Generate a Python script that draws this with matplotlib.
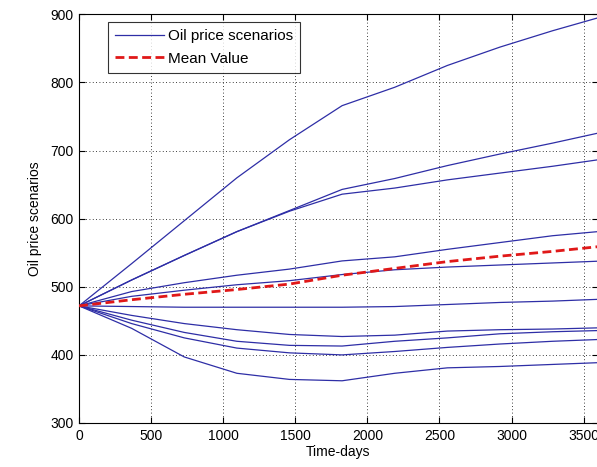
import numpy as np
import matplotlib
matplotlib.use("Agg")
import matplotlib.pyplot as plt

# Simulation time grid (days, yearly steps)
days = [0, 365, 730, 1095, 1460, 1825, 2190, 2555, 2920, 3285, 3650]

# Oil price scenarios
scenario_1 = [472, 534, 597, 660, 716, 766, 793, 825, 852, 876, 898]
scenario_2 = [472, 510, 546, 581, 612, 643, 659, 678, 695, 711, 728]
scenario_3 = [472, 510, 546, 581, 611, 636, 645, 657, 667, 677, 688]
scenario_4 = [472, 493, 506, 517, 526, 538, 544, 555, 565, 575, 582]
scenario_5 = [472, 486, 495, 503, 509, 518, 525, 529, 532, 535, 538]
scenario_6 = [472, 471, 470, 470, 470, 470, 471, 474, 477, 479, 482]
scenario_7 = [472, 458, 446, 437, 430, 427, 429, 435, 437, 438, 440]
scenario_8 = [472, 451, 433, 420, 414, 413, 420, 425, 431, 434, 436]
scenario_9 = [472, 446, 425, 410, 403, 400, 405, 411, 416, 420, 423]
scenario_10 = [472, 439, 397, 373, 364, 362, 373, 381, 383, 386, 389]

# Mean of the scenarios
mean_value = [472, 481, 489, 496, 504, 517, 527, 537, 545, 552, 560]

scenarios = [scenario_1, scenario_2, scenario_3, scenario_4, scenario_5,
             scenario_6, scenario_7, scenario_8, scenario_9, scenario_10]

plt.rcParams['font.family'] = ['Liberation Sans', 'DejaVu Sans']

fig = plt.figure(figsize=(5.97, 4.67), dpi=100)
ax = fig.add_axes([79 / 597, 44 / 467, 519 / 597, 408.6 / 467])

blue = '#2e2ea6'
for i, s in enumerate(scenarios):
    ax.plot(days, s, color=blue, lw=0.9,
            label='Oil price scenarios' if i == 0 else None, zorder=3)
ax.plot(days, mean_value, color='#e01818', lw=2.0, ls=(0, (3.2, 1.6)),
        label='Mean Value', zorder=4)

ax.set_xlim(0, 3600)
ax.set_ylim(300, 900)
ax.set_xticks(np.arange(0, 3600, 500))
ax.set_yticks(np.arange(300, 901, 100))

ax.grid(True, color='black', ls=(0, (1, 3)), lw=0.6)
ax.tick_params(direction='in', length=4, width=0.8, top=True, right=True,
               labelsize=10, pad=4, colors='black')
for sp in ax.spines.values():
    sp.set_linewidth(0.8)

ax.set_xlabel('Time-days', fontsize=10, labelpad=2)
ax.set_ylabel('Oil price scenarios', fontsize=10, labelpad=6)

leg = ax.legend(loc='upper left', bbox_to_anchor=(29 / 519, 1 - 8 / 408.6),
                fontsize=11, frameon=True, fancybox=False, borderpad=0.45,
                handlelength=3.2, handletextpad=0.28, labelspacing=0.55,
                borderaxespad=0)
leg.get_frame().set_edgecolor('black')
leg.get_frame().set_linewidth(0.8)

fig.savefig('out.png', dpi=100)
